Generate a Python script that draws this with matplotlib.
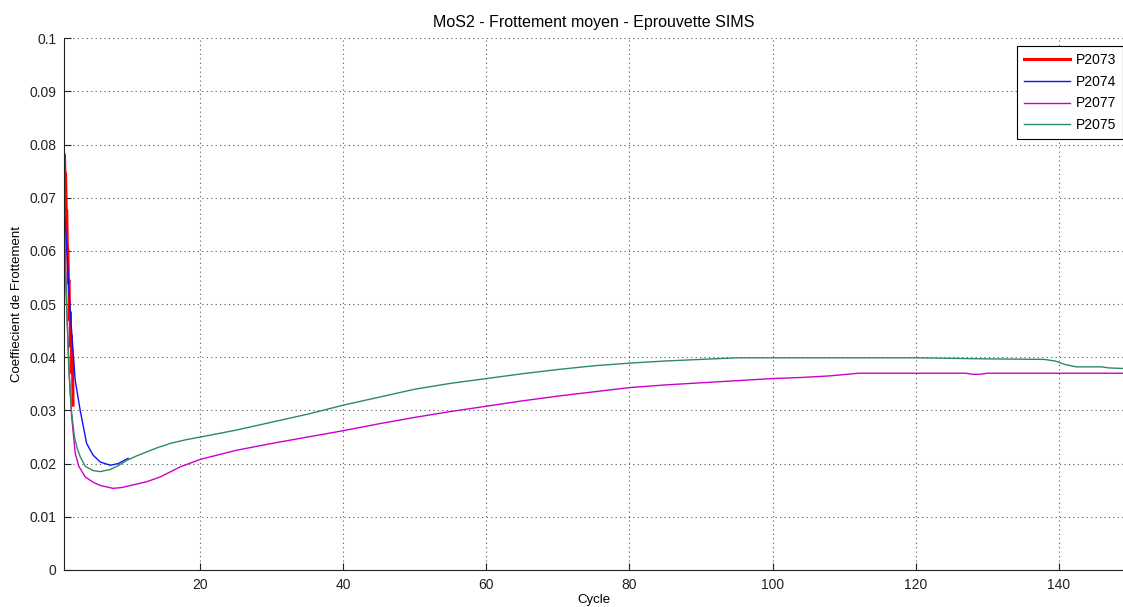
import numpy as np
import matplotlib.pyplot as plt

# P2073 (red, only the first couple of cycles)
x_p2073 = [1.0, 1.08, 1.16, 1.24, 1.32, 1.40, 1.48, 1.56, 1.64, 1.72, 1.80, 1.88, 1.96, 2.04, 2.12, 2.2]
y_p2073 = [0.078, 0.074, 0.0745, 0.068, 0.0675, 0.061, 0.060, 0.054, 0.0545, 0.047, 0.0485,
           0.042, 0.044, 0.037, 0.040, 0.031]

# P2074 (blue, stops around cycle 10)
x_p2074 = [1.0, 1.3, 1.6, 2.0, 2.5, 3.2, 4.1, 5.0, 6.0, 7.4, 8.5, 9.9]
y_p2074 = [0.068, 0.061, 0.053, 0.045, 0.0357, 0.030, 0.0238, 0.0216, 0.0203, 0.0197, 0.0200, 0.0210]

# P2077 (magenta)
x_p2077 = [1.0, 1.3, 1.7, 2.0, 2.5, 3.0, 3.9, 5.0, 6.0, 7.8, 9.0, 10.6, 12.5, 14.4, 17.2, 20,
           25, 30, 35, 40, 45, 50, 55, 60, 65, 70, 75, 80, 85, 90, 95, 100, 104, 108, 112,
           120, 127, 128, 129, 130, 140, 149]
y_p2077 = [0.065, 0.050, 0.036, 0.029, 0.022, 0.0195, 0.0175, 0.0165, 0.0159, 0.01535, 0.0155,
           0.0160, 0.0166, 0.0175, 0.0194, 0.0208, 0.0225, 0.0238, 0.0250, 0.0262, 0.0275,
           0.0287, 0.0298, 0.0308, 0.0318, 0.0327, 0.0335, 0.0343, 0.0348, 0.0352, 0.0356,
           0.0360, 0.0362, 0.0365, 0.0370, 0.0370, 0.0370, 0.0368, 0.0368, 0.0370, 0.0370, 0.0370]

# P2075 (green)
x_p2075 = [1.0, 1.3, 1.6, 2.0, 2.4, 2.8, 3.2, 3.9, 5.0, 6.0, 7.4, 8.5, 9.7, 11, 12.5, 14, 15.8,
           18, 20, 25, 30, 35, 40, 45, 50, 55, 60, 65, 70, 75, 80, 85, 90, 95, 100, 110, 120,
           130, 138, 139.5, 141, 142.5, 146, 147, 149]
y_p2075 = [0.062, 0.050, 0.038, 0.0295, 0.025, 0.0228, 0.0213, 0.0195, 0.0187, 0.0185, 0.0189,
           0.0196, 0.0206, 0.0214, 0.0222, 0.0230, 0.0238, 0.0245, 0.0250, 0.0263, 0.0278,
           0.0293, 0.0310, 0.0325, 0.0340, 0.0351, 0.0360, 0.0369, 0.0377, 0.0384, 0.0389,
           0.0393, 0.0396, 0.0399, 0.0399, 0.0399, 0.0399, 0.0397, 0.0396, 0.0393, 0.0386,
           0.0382, 0.0382, 0.0380, 0.0379]

x_ticks = [20, 40, 60, 80, 100, 120, 140]
y_ticks = [0, 0.01, 0.02, 0.03, 0.04, 0.05, 0.06, 0.07, 0.08, 0.09, 0.1]
y_tick_labels = ['0', '0.01', '0.02', '0.03', '0.04', '0.05', '0.06', '0.07', '0.08', '0.09', '0.1']

plt.rcParams['font.family'] = ['Liberation Sans', 'DejaVu Sans']
plt.rcParams['font.size'] = 10

fig = plt.figure(figsize=(11.23, 6.07), dpi=100)
ax = fig.add_axes([0.0574, 0.061, 0.9426, 0.876])

ax.plot(x_p2073, y_p2073, color='#ff0000', lw=2.2, label='P2073')
ax.plot(x_p2074, y_p2074, color='#1010ff', lw=1.0, label='P2074')
ax.plot(x_p2077, y_p2077, color='#cc00cc', lw=1.0, label='P2077')
ax.plot(x_p2075, y_p2075, color='#2e8b5f', lw=1.0, label='P2075')

ax.set_xlim(1, 149)
ax.set_ylim(0, 0.1)
ax.set_xticks(x_ticks)
ax.set_yticks(y_ticks)
ax.set_yticklabels(y_tick_labels)
ax.tick_params(direction='in', length=5, width=0.8, colors='#222222', pad=6)
ax.grid(True, linestyle=(0, (1, 3)), color='#555555', lw=0.8)
ax.spines['top'].set_visible(False)
ax.spines['right'].set_visible(False)
for s in ['left', 'bottom']:
    ax.spines[s].set_color('#222222')

ax.set_title('MoS2 - Frottement moyen - Eprouvette SIMS', fontsize=11.5, pad=8)
ax.set_xlabel('Cycle', fontsize=9.5, labelpad=1)
ax.set_ylabel('Coeffiecient de Frottement', fontsize=9.5, labelpad=4)

leg = ax.legend(loc='upper right', bbox_to_anchor=(1.0, 0.985), borderaxespad=0,
                fancybox=False, edgecolor='black', framealpha=1, handlelength=3.3,
                handletextpad=0.4, labelspacing=0.55, borderpad=0.5, fontsize=10)
leg.get_frame().set_linewidth(0.8)

fig.savefig('out.png', dpi=100)
